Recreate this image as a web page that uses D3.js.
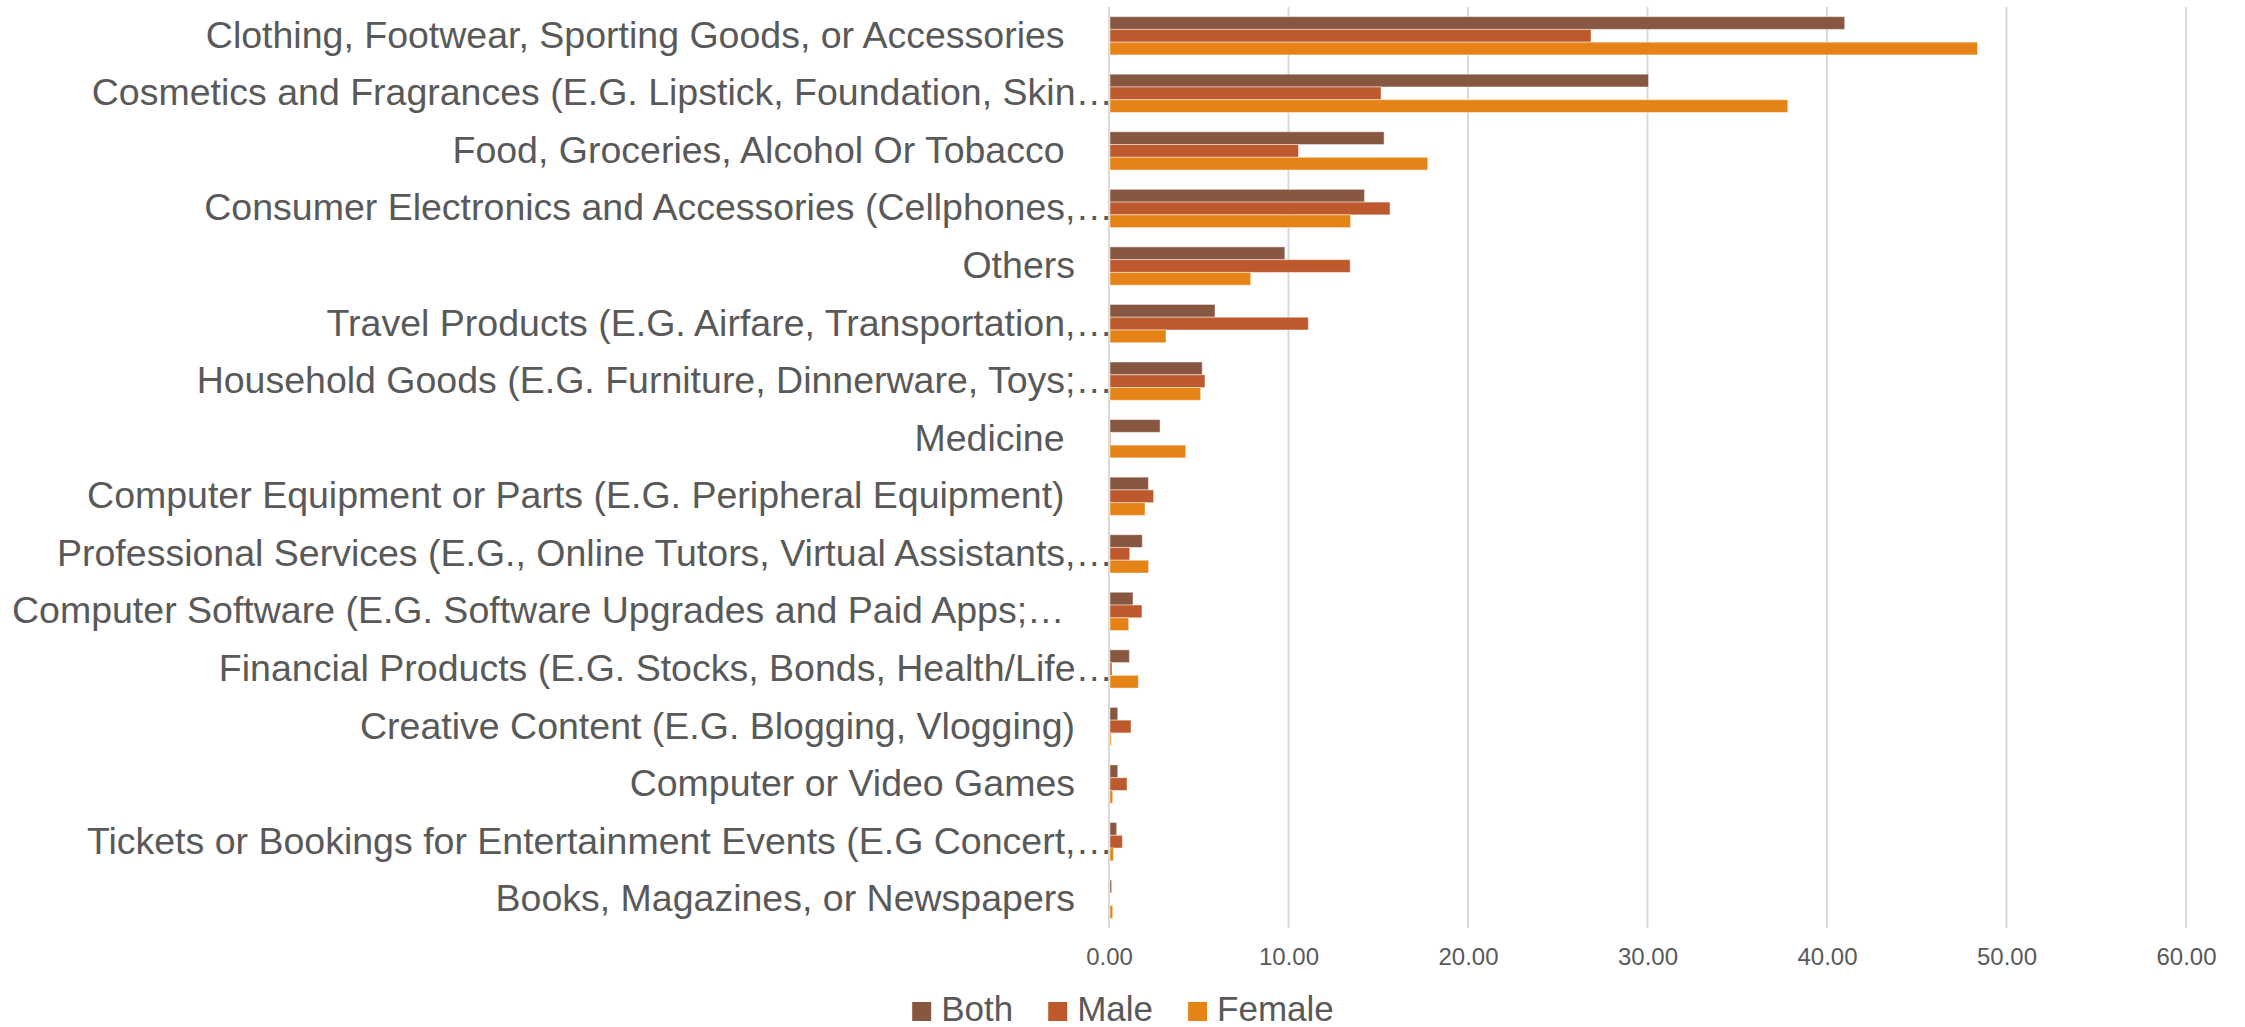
<!DOCTYPE html>
<html>
<head>
<meta charset="utf-8">
<script src="https://cdn.jsdelivr.net/npm/d3@7"></script>
<style>
  html, body { margin: 0; padding: 0; background: #ffffff; }
  svg { display: block; font-family: "Liberation Sans", Arial, sans-serif; }
  .cat { white-space: pre; }
</style>
</head>
<body>
<svg id="chart" width="2245" height="1027"></svg>
<script>
// Product categories, top to bottom (trailing spaces kept as in the source labels)
const categories = [
  "Clothing, Footwear, Sporting Goods, or Accessories ",
  "Cosmetics and Fragrances (E.G. Lipstick, Foundation, Skin…",
  "Food, Groceries, Alcohol Or Tobacco ",
  "Consumer Electronics and Accessories (Cellphones,…",
  "Others",
  "Travel Products (E.G. Airfare, Transportation,…",
  "Household Goods (E.G. Furniture, Dinnerware, Toys;…",
  "Medicine ",
  "Computer Equipment or Parts (E.G. Peripheral Equipment) ",
  "Professional Services (E.G., Online Tutors, Virtual Assistants,…",
  "Computer Software (E.G. Software Upgrades and Paid Apps;… ",
  "Financial Products (E.G. Stocks, Bonds, Health/Life…",
  "Creative Content (E.G. Blogging, Vlogging)",
  "Computer or Video Games",
  "Tickets or Bookings for Entertainment Events (E.G Concert,…",
  "Books, Magazines, or Newspapers"
];

const seriesNames = ["Both", "Male", "Female"];
const seriesColors = ["#875741", "#BD592D", "#E68316"];

const both   = [40.93, 30.0, 15.27, 14.18, 9.74, 5.85, 5.14, 2.79, 2.14, 1.80, 1.28, 1.08, 0.43, 0.43, 0.37, 0.09];
const male   = [26.8, 15.1, 10.5, 15.6, 13.38, 11.05, 5.29, 0.04, 2.43, 1.10, 1.78, 0.11, 1.17, 0.95, 0.69, 0];
const female = [48.33, 37.76, 17.7, 13.4, 7.84, 3.12, 5.05, 4.22, 1.95, 2.15, 1.04, 1.58, 0.07, 0.15, 0.19, 0.15];

const xTicks = [0, 10, 20, 30, 40, 50, 60];

const seriesValues = [both, male, female];

const svg = d3.select("#chart");
const textColor = "#595959";

const plot = { left: 1109, right: 2186, top: 7, bottom: 928 };

const x = d3.scaleLinear().domain([0, 60]).range([plot.left, plot.right]);

const y = d3.scaleBand()
  .domain(categories)
  .range([plot.top, plot.bottom])
  .paddingInner(0.335)
  .paddingOuter(0.1675);

const ySub = d3.scaleBand()
  .domain(seriesNames)
  .range([0, y.bandwidth()])
  .padding(0);

// Vertical gridlines
svg.append("g")
  .selectAll("line")
  .data(xTicks)
  .join("line")
  .attr("x1", d => x(d))
  .attr("x2", d => x(d))
  .attr("y1", plot.top)
  .attr("y2", plot.bottom)
  .attr("stroke", "#d9d9d9")
  .attr("stroke-width", 2);

// Bottom axis labels
const xAxis = d3.axisBottom(x)
  .tickValues(xTicks)
  .tickSize(0)
  .tickPadding(0)
  .tickFormat(d3.format(".2f"));

const axisG = svg.append("g")
  .attr("transform", `translate(0, ${plot.bottom})`)
  .call(xAxis);
axisG.select(".domain").remove();
axisG.selectAll("text")
  .attr("y", 37)
  .attr("dy", null)
  .attr("fill", textColor)
  .attr("font-size", "24px")
  .attr("font-family", "'Liberation Sans', Arial, sans-serif");

// Category labels; ellipsis-truncated names run up to the zero line
svg.append("g")
  .selectAll("text")
  .data(categories)
  .join("text")
  .attr("class", "cat")
  .attr("x", d => d.endsWith("…") ? plot.left + 4 : plot.left - 34)
  .attr("y", d => y(d) + y.bandwidth() / 2 + 12)
  .attr("text-anchor", "end")
  .attr("font-size", "37.5px")
  .attr("fill", textColor)
  .text(d => d);

// Bars
const rows = categories.map((c, i) => ({
  cat: c,
  vals: seriesNames.map((s, j) => ({ series: s, value: seriesValues[j][i], color: seriesColors[j] }))
}));

const groups = svg.append("g")
  .selectAll("g")
  .data(rows)
  .join("g")
  .attr("transform", d => `translate(0, ${y(d.cat)})`);

groups.selectAll("rect")
  .data(d => d.vals)
  .join("rect")
  .attr("x", x(0) + 1)
  .attr("y", d => ySub(d.series))
  .attr("width", d => Math.max(0, x(d.value) - x(0)))
  .attr("height", ySub.bandwidth())
  .attr("fill", d => d.color)
  .attr("stroke", "#ffffff")
  .attr("stroke-opacity", 0.45)
  .attr("stroke-width", 1);

// Legend, centred under the chart
const legendFont = 35;
const sw = 19, gapText = 10, gapItem = 35;
const legend = svg.append("g");
const measure = svg.append("text").attr("font-size", legendFont + "px").attr("visibility", "hidden");
const widths = seriesNames.map(n => { measure.text(n); return measure.node().getComputedTextLength(); });
measure.remove();
const totalW = d3.sum(widths) + seriesNames.length * (sw + gapText) + (seriesNames.length - 1) * gapItem;
let lx = 1123 - totalW / 2;
const baseY = 1021;
seriesNames.forEach((n, i) => {
  legend.append("rect")
    .attr("x", lx).attr("y", baseY - sw)
    .attr("width", sw).attr("height", sw)
    .attr("fill", seriesColors[i]);
  legend.append("text")
    .attr("x", lx + sw + gapText)
    .attr("y", baseY)
    .attr("font-size", legendFont + "px")
    .attr("fill", textColor)
    .text(n);
  lx += sw + gapText + widths[i] + gapItem;
});
</script>
</body>
</html>
